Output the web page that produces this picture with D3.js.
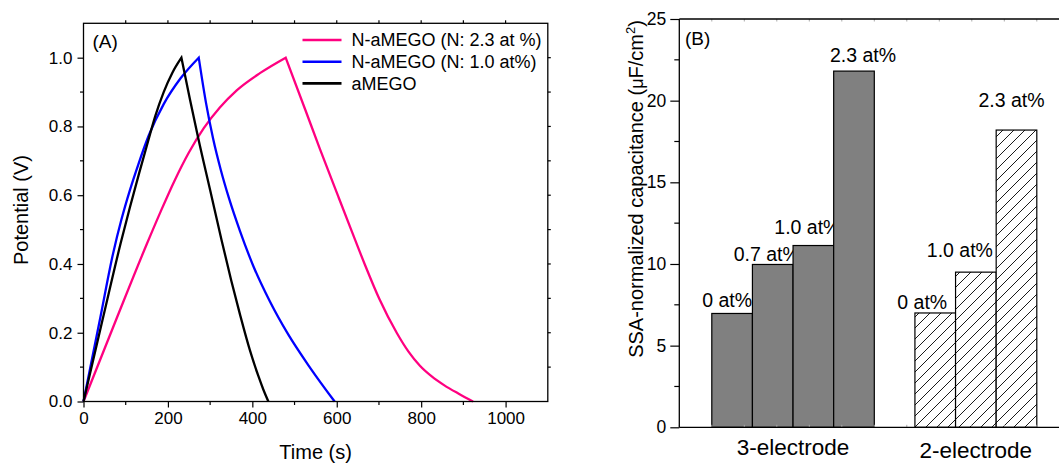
<!DOCTYPE html>
<html><head><meta charset="utf-8">
<script src="https://cdn.jsdelivr.net/npm/d3@7"></script>
<style>
body{margin:0;background:#fff}
svg{display:block}
text{font-family:"Liberation Sans",Arial,sans-serif;fill:#000}
</style>
</head><body>
<svg id="c" width="1059" height="463"></svg>
<script>
// ---------- Panel A data ----------
const seriesNames = ["N-aMEGO (N: 2.3 at %)", "N-aMEGO (N: 1.0 at%)", "aMEGO"];
const seriesColors = ["#ff0080", "#0000ff", "#000000"];
const pinkCharge = [[0,0],[77,0.237],[150,0.458],[183,0.553],[216,0.643],[250,0.725],[285,0.795],[323,0.855],[363,0.905],[418,0.955],[479,1.0]];
const pinkDischarge = [[479,1.0],[525,0.85],[560,0.735],[604,0.595],[635,0.497],[667,0.397],[701,0.298],[742,0.2],[770,0.145],[797,0.104],[825,0.073],[855,0.047],[890,0.022],[923,0]];
const blueCharge = [[0,0],[40,0.245],[70,0.43],[90,0.53],[110,0.615],[130,0.69],[155,0.775],[190,0.865],[230,0.94],[273,1.0]];
const blueDischarge = [[273,1.0],[290,0.87],[307,0.765],[325,0.675],[345,0.59],[371,0.495],[402,0.395],[442,0.29],[485,0.195],[537,0.098],[595,0]];
const blackCharge = [[0,0],[45,0.237],[88,0.46],[110,0.565],[132,0.665],[153,0.757],[170,0.83],[190,0.9],[210,0.955],[232,1.0]];
const blackDischarge = [[232,1.0],[252,0.88],[272,0.765],[300,0.615],[327,0.47],[350,0.352],[371,0.252],[394,0.15],[414,0.075],[426,0.035],[438,0]];
const timeTicks = [0, 200, 400, 600, 800, 1000];
const potentialTicks = [0, 0.2, 0.4, 0.6, 0.8, 1.0];

// ---------- Panel B data ----------
const groupNames = ["3-electrode", "2-electrode"];
const threeElectrodeLabels = ["0 at%", "0.7 at%", "1.0 at%", "2.3 at%"];
const threeElectrodeValues = [6.97, 9.97, 11.13, 21.81];
const twoElectrodeLabels = ["0 at%", "1.0 at%", "2.3 at%"];
const twoElectrodeValues = [7.0, 9.5, 18.2];
const capTicks = [0, 5, 10, 15, 20, 25];

// ---------- layout ----------
const svg = d3.select("#c");
const AX = {l: 83.5, r: 547.8, t: 23.3, b: 401.5};
const x = d3.scaleLinear().domain([0, 1100]).range([AX.l, AX.r]);
const y = d3.scaleLinear().domain([0, 1.1]).range([AX.b, AX.t]);

const gA = svg.append("g");
function tickLines(g, vals, fn){
  g.selectAll(null).data(vals).enter().append("line")
    .each(function(d){ const c = fn(d); d3.select(this).attr("x1",c[0]).attr("y1",c[1]).attr("x2",c[2]).attr("y2",c[3]); })
    .attr("stroke","#000").attr("stroke-width",1.2);
}
// minor / outer ticks
tickLines(gA, d3.range(100, 1100, 200), d => [x(d), AX.b, x(d), AX.b+3.5]);
tickLines(gA, d3.range(0.1, 1.1, 0.2), d => [AX.l, y(d), AX.l-3.5, y(d)]);
tickLines(gA, d3.range(100, 1100, 100), d => [x(d), AX.t, x(d), AX.t-3]);
tickLines(gA, d3.range(0.1, 1.1, 0.1), d => [AX.r, y(d), AX.r+3, y(d)]);

const xAxis = gA.append("g").attr("transform",`translate(0,${AX.b})`)
  .call(d3.axisBottom(x).tickValues(timeTicks).tickSize(6).tickPadding(4).tickFormat(d3.format("d")));
const yAxis = gA.append("g").attr("transform",`translate(${AX.l},0)`)
  .call(d3.axisLeft(y).tickValues(potentialTicks).tickSize(6).tickPadding(5).tickFormat(d3.format(".1f")));
[xAxis, yAxis].forEach(a => {
  a.select(".domain").remove();
  a.selectAll(".tick line").attr("stroke","#000").attr("stroke-width",1.2);
  a.selectAll(".tick text").attr("font-size",17).attr("font-family","Liberation Sans, Arial, sans-serif").attr("fill","#000");
});

// curves
const line = d3.line().x(d => x(d[0])).y(d => y(d[1])).curve(d3.curveMonotoneX);
const curves = [[pinkCharge, pinkDischarge],[blueCharge, blueDischarge],[blackCharge, blackDischarge]];
curves.forEach((c, i) => {
  const d = line(c[0]) + line(c[1]).replace(/^M/, "L");
  gA.append("path").attr("d", d).attr("fill","none").attr("stroke", seriesColors[i])
    .attr("stroke-width", 2.3).attr("stroke-linejoin","miter");
});

gA.append("rect").attr("x",AX.l).attr("y",AX.t).attr("width",AX.r-AX.l).attr("height",AX.b-AX.t)
  .attr("fill","none").attr("stroke","#000").attr("stroke-width",1.3);

gA.append("text").attr("x",92.5).attr("y",48).attr("font-size",19).text("(A)");
gA.append("text").attr("x",(AX.l+AX.r)/2).attr("y",459).attr("text-anchor","middle").attr("font-size",20).text("Time (s)");
gA.append("text").attr("transform",`translate(28,210) rotate(-90)`).attr("text-anchor","middle").attr("font-size",20).text("Potential (V)");

// legend
const leg = gA.append("g");
seriesNames.forEach((n, i) => {
  const ly = 40 + i*21.7;
  leg.append("line").attr("x1",302.5).attr("x2",341.5).attr("y1",ly).attr("y2",ly)
    .attr("stroke",seriesColors[i]).attr("stroke-width",2.6);
  leg.append("text").attr("x",351.5).attr("y",ly+6.3).attr("font-size",18).text(n);
});

// ---------- Panel B ----------
const BX = {l: 679.3, t: 19, b: 427.3};
const xb = d3.scaleLinear().domain([0, 12]).range([BX.l, BX.l + 12*32.5]);
const yb = d3.scaleLinear().domain([0, 25]).range([BX.b, BX.t]);
const gB = svg.append("g");

const defs = svg.append("defs");
const pat = defs.append("pattern").attr("id","hatch").attr("patternUnits","userSpaceOnUse")
  .attr("width",11).attr("height",11);
pat.append("rect").attr("width",11).attr("height",11).attr("fill","#fff");
pat.append("path").attr("d","M-1,1 L1,-1 M0,11 L11,0 M10,12 L12,10").attr("stroke","#000").attr("stroke-width",0.9);

const groupStart = [1, 7.25], barW = 1.25;
const groups = [
  {vals: threeElectrodeValues, labels: threeElectrodeLabels, fill: "#808080"},
  {vals: twoElectrodeValues, labels: twoElectrodeLabels, fill: "url(#hatch)"}
];
// label nudges in px (dx, gap above bar)
const labelNudge = [[[-5,6],[-6,3],[-6,12],[9,9.5]], [[-13,4],[-16,15],[-5,23.5]]];

groups.forEach((g, gi) => {
  g.vals.forEach((v, i) => {
    const x0 = xb(groupStart[gi] + i*barW), x1 = xb(groupStart[gi] + (i+1)*barW);
    gB.append("rect").attr("x",x0).attr("y",yb(v)).attr("width",x1-x0).attr("height",yb(0)-yb(v))
      .attr("fill",g.fill).attr("stroke","#000").attr("stroke-width",1.2);
    const nd = labelNudge[gi][i];
    gB.append("text").attr("x",(x0+x1)/2 + nd[0]).attr("y",yb(v) - nd[1])
      .attr("text-anchor","middle").attr("font-size",19.5).text(g.labels[i]);
  });
  const cx = xb(groupStart[gi] + g.vals.length*barW/2);
  gB.append("text").attr("x",cx).attr("y", gi === 0 ? 455 : 457.5).attr("text-anchor","middle")
    .attr("font-size",22.5).text(groupNames[gi]);
});

// faint x ticks (top & bottom), inward
const xbTicks = d3.range(0, 12, 1);
gB.selectAll(null).data(xbTicks).enter().append("line")
  .attr("x1",d=>xb(d)).attr("x2",d=>xb(d)).attr("y1",BX.b).attr("y2",BX.b-2.5).attr("stroke","#aaa").attr("stroke-width",1);
gB.selectAll(null).data(xbTicks).enter().append("line")
  .attr("x1",d=>xb(d)).attr("x2",d=>xb(d)).attr("y1",BX.t).attr("y2",BX.t+2.5).attr("stroke","#aaa").attr("stroke-width",1);

// y ticks
tickLines(gB, d3.range(2.5, 25, 5), d => [BX.l, yb(d), BX.l-5, yb(d)]);
const ybAxis = gB.append("g").attr("transform",`translate(${BX.l},0)`)
  .call(d3.axisLeft(yb).tickValues(capTicks).tickSize(9).tickPadding(4).tickFormat(d3.format("d")));
ybAxis.select(".domain").remove();
ybAxis.selectAll(".tick line").attr("stroke","#000").attr("stroke-width",1.2);
ybAxis.selectAll(".tick text").attr("font-size",17.5).attr("font-family","Liberation Sans, Arial, sans-serif").attr("fill","#000");

// frame lines (left, top, bottom; right side is off canvas)
gB.append("line").attr("x1",BX.l).attr("x2",BX.l).attr("y1",BX.t).attr("y2",BX.b).attr("stroke","#000").attr("stroke-width",1.3);
gB.append("line").attr("x1",BX.l).attr("x2",1070).attr("y1",BX.t).attr("y2",BX.t).attr("stroke","#000").attr("stroke-width",1.3);
gB.append("line").attr("x1",BX.l).attr("x2",1070).attr("y1",BX.b).attr("y2",BX.b).attr("stroke","#000").attr("stroke-width",1.3);

gB.append("text").attr("x",685).attr("y",45).attr("font-size",19).text("(B)");

const yt = gB.append("text").attr("transform",`translate(643,189) rotate(-90)`).attr("text-anchor","middle").attr("font-size",20);
yt.append("tspan").text("SSA-normalized capacitance (");
yt.append("tspan").attr("font-size",18).text("μ");
yt.append("tspan").text("F/cm");
yt.append("tspan").attr("font-size",13).attr("dy",-8).text("2");
yt.append("tspan").attr("dy",8).text(")");
</script>
</body></html>
